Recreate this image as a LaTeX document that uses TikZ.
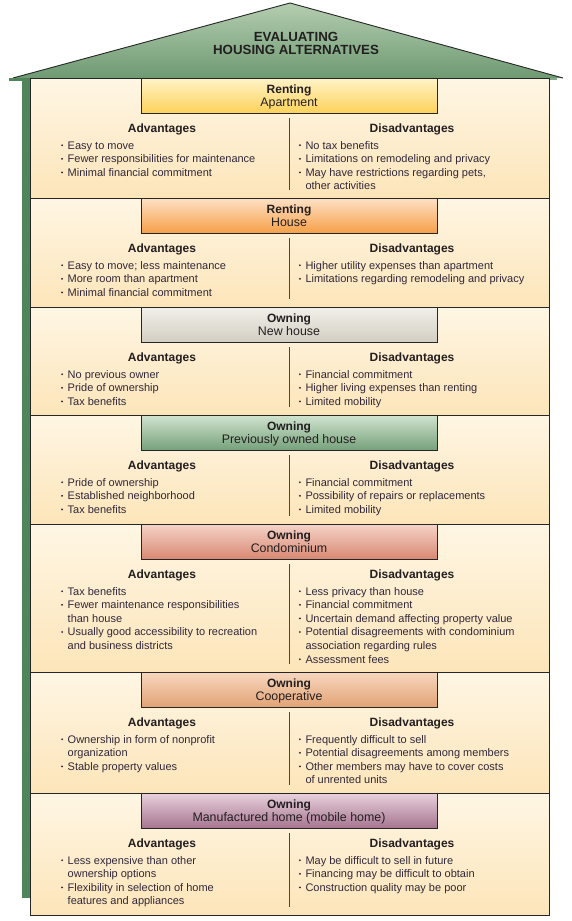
\documentclass[tikz,border=0pt]{standalone}
\usepackage{fontspec}
\setmainfont{Liberation Sans}
\definecolor{edgecol}{HTML}{262626}
\definecolor{secTop}{HTML}{FEF6E4}
\definecolor{secBot}{HTML}{FDE5B9}
\definecolor{roofTop}{HTML}{B4CDB0}
\definecolor{roofBot}{HTML}{6E9A72}
\definecolor{wallcol}{HTML}{4F8559}
\definecolor{headcol}{HTML}{231F20}
\definecolor{bodycol}{HTML}{30283A}
\definecolor{yTop}{HTML}{FEF3C8}
\definecolor{yBot}{HTML}{FDD25A}
\definecolor{oTop}{HTML}{FEE1C6}
\definecolor{oBot}{HTML}{F6A048}
\definecolor{gTop}{HTML}{F1F0EA}
\definecolor{gBot}{HTML}{D3CEC3}
\definecolor{grTop}{HTML}{D1E4CF}
\definecolor{grBot}{HTML}{76A17B}
\definecolor{sTop}{HTML}{F5D4C8}
\definecolor{sBot}{HTML}{D98873}
\definecolor{pTop}{HTML}{F7D7BF}
\definecolor{pBot}{HTML}{E2A375}
\definecolor{mTop}{HTML}{E8D1DD}
\definecolor{mBot}{HTML}{A67590}
\tikzset{
  secbox/.style={draw=edgecol, line width=0.9pt, top color=secTop, bottom color=secBot},
  hdrbox/.style={draw=edgecol, line width=0.9pt},
  hdrbold/.style={anchor=base, inner sep=0pt, text=headcol, font=\bfseries\fontsize{12}{12}\selectfont},
  hdrreg/.style={anchor=base, inner sep=0pt, text=headcol, font=\fontsize{12.4}{12.4}\selectfont},
  headtxt/.style={anchor=base, inner sep=0pt, text=headcol, font=\bfseries\fontsize{12}{12}\selectfont},
  bodytxt/.style={anchor=base west, inner sep=0pt, text=bodycol, font=\fontsize{11}{11}\selectfont},
  titletxt/.style={anchor=base, inner sep=0pt, text=headcol, font=\bfseries\fontsize{13.3}{13.3}\selectfont},
  divline/.style={draw=edgecol!85, line width=0.8pt},
  roofline/.style={draw=edgecol, line width=0.9pt, line join=miter}
}
\newcommand\hsec[7]{%
  \shade[secbox] (30,#2) rectangle (549,#3);
  \shade[hdrbox, top color=#4, bottom color=#5] (141,#2) rectangle (437,#2+35);
  \node[hdrbold] (#1-t1) at (289,#2+15.7) {#6};
  \node[hdrreg] (#1-t2) at (289,#2+28.9) {#7};
  \node[headtxt] (#1-adv) at (162,#2+54.3) {Advantages};
  \node[headtxt] (#1-dis) at (412,#2+54.3) {Disadvantages};
  \draw[divline] (289,#2+40) -- (289,#3-8);
}
\newcommand\blist[4]{%
  \foreach \kk/\txt [count=\nn] in {#4} {
    \pgfmathsetmacro\yy{#3+71+(\nn-1)*13.6}
    \ifnum\kk=1 \fill[bodycol] (#2+1.1,\yy-3.8) circle (1.05pt); \fi
    \node[bodytxt] (#1-l\nn) at (#2+6.5,\yy) {\txt};
  }
}
\begin{document}
\begin{tikzpicture}[x=1pt,y=-1pt]
\useasboundingbox (0,0) rectangle (572,921);
\fill[white] (0,0) rectangle (572,921);
% roof
\shade[top color=roofTop, bottom color=roofBot] (13,78) -- (290,3) -- (563,78) -- cycle;
\draw[roofline] (13,78) -- (290,3) -- (563,78);
\node[titletxt] (title1) at (296,41) {EVALUATING};
\node[titletxt] (title2) at (296,54) {HOUSING ALTERNATIVES};
% wall
\fill[wallcol] (22,78) rectangle (30,898);
\fill[wallcol] (9,78) rectangle (30,80.5);
\fill[wallcol!70] (549,78) rectangle (557,80);
% sections
\hsec{s1}{78}{198}{yTop}{yBot}{Renting}{Apartment}
\blist{s1a}{61}{78}{1/Easy to move, 1/Fewer responsibilities for maintenance, 1/Minimal financial commitment}
\blist{s1d}{298.8}{78}{1/No tax benefits, 1/Limitations on remodeling and privacy, 1/{May have restrictions regarding pets,}, 0/other activities}

\hsec{s2}{198}{307}{oTop}{oBot}{Renting}{House}
\blist{s2a}{61}{198}{1/Easy to move; less maintenance, 1/More room than apartment, 1/Minimal financial commitment}
\blist{s2d}{298.8}{198}{1/Higher utility expenses than apartment, 1/Limitations regarding remodeling and privacy}

\hsec{s3}{307}{415}{gTop}{gBot}{Owning}{New house}
\blist{s3a}{61}{307}{1/No previous owner, 1/Pride of ownership, 1/Tax benefits}
\blist{s3d}{298.8}{307}{1/Financial commitment, 1/Higher living expenses than renting, 1/Limited mobility}

\hsec{s4}{415}{524}{grTop}{grBot}{Owning}{Previously owned house}
\blist{s4a}{61}{415}{1/Pride of ownership, 1/Established neighborhood, 1/Tax benefits}
\blist{s4d}{298.8}{415}{1/Financial commitment, 1/Possibility of repairs or replacements, 1/Limited mobility}

\hsec{s5}{524}{672}{sTop}{sBot}{Owning}{Condominium}
\blist{s5a}{61}{524}{1/Tax benefits, 1/Fewer maintenance responsibilities, 0/than house, 1/Usually good accessibility to recreation, 0/and business districts}
\blist{s5d}{298.8}{524}{1/Less privacy than house, 1/Financial commitment, 1/Uncertain demand affecting property value, 1/Potential disagreements with condominium, 0/association regarding rules, 1/Assessment fees}

\hsec{s6}{672}{793}{pTop}{pBot}{Owning}{Cooperative}
\blist{s6a}{61}{672}{1/Ownership in form of nonprofit, 0/organization, 1/Stable property values}
\blist{s6d}{298.8}{672}{1/Frequently difficult to sell, 1/Potential disagreements among members, 1/Other members may have to cover costs, 0/of unrented units}

\hsec{s7}{793}{915}{mTop}{mBot}{Owning}{Manufactured home (mobile home)}
\blist{s7a}{61}{793}{1/Less expensive than other, 0/ownership options, 1/Flexibility in selection of home, 0/features and appliances}
\blist{s7d}{298.8}{793}{1/May be difficult to sell in future, 1/Financing may be difficult to obtain, 1/Construction quality may be poor}
\end{tikzpicture}
\end{document}
